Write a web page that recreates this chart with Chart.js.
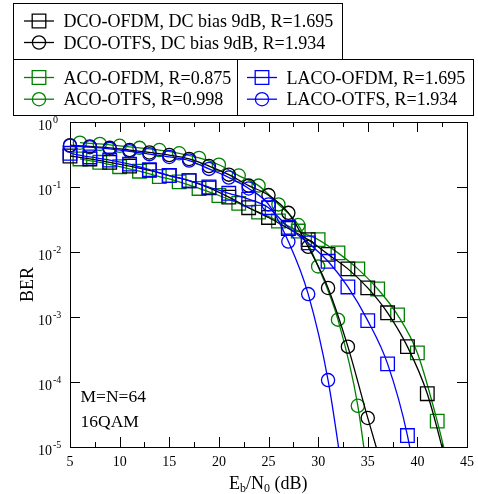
<!DOCTYPE html>
<html>
<head>
<meta charset="utf-8">
<script src="https://cdn.jsdelivr.net/npm/chart.js@4.4.0/dist/chart.umd.min.js"></script>
<style>
  html, body { margin:0; padding:0; background:#fff; }
  canvas { display:block; }
</style>
</head>
<body>
<canvas id="berChart" width="478" height="494"></canvas>
<script>

/* Eb/N0 grids (dB) */
const snrOdd  = [5,7,9,11,13,15,17,19,21,23,25,27,29,31,33,35,37,39,41,43];
const snrEven = [6,8,10,12,14,16,18,20,22,24,26,28,30,32,34,36,38,40,42,44];

/* BER per scheme */
const dcoOfdm  = [0.30,0.27,0.24,0.21,0.18,0.15,0.125,0.097,0.07,0.048,0.034,0.023,0.0155,0.0092,0.0055,0.0028,0.00116,0.00035,0.000066,0.000005];
const dcoOtfs  = [0.44,0.42,0.40,0.37,0.34,0.31,0.27,0.21,0.155,0.105,0.075,0.040,0.012,0.0028,0.00035,0.000028,0.0000025];
const acoOfdm  = [0.27,0.24,0.205,0.175,0.145,0.12,0.095,0.074,0.056,0.041,0.03,0.021,0.0155,0.0097,0.0055,0.0027,0.00108,0.00028,0.000025,0.0000013];
const acoOtfs  = [0.48,0.46,0.43,0.40,0.37,0.33,0.28,0.22,0.15,0.105,0.054,0.026,0.006,0.00091,0.000043,0.0000002];
const lacoOfdm = [0.33,0.29,0.26,0.225,0.185,0.15,0.125,0.10,0.08,0.065,0.048,0.024,0.0138,0.0072,0.0029,0.00088,0.00019,0.000015,0.00000025];
const lacoOtfs = [0.43,0.41,0.385,0.355,0.32,0.29,0.255,0.19,0.14,0.095,0.054,0.0145,0.00225,0.000107,0.000001];

/* axis ticks */
const xTicks = [5,10,15,20,25,30,35,40,45];
const xMinorTicks = [7.5,12.5,17.5,22.5,27.5,32.5,37.5,42.5];
const yTicks = [1,0.1,0.01,0.001,0.0001,0.00001];

const serif = '"Liberation Serif", "Times New Roman", serif';

function pairs(xs, ys){
  return ys.map((y, i) => ({ x: xs[i], y: y }));
}

function series(label, xs, ys, color, style, order){
  return {
    label: label,
    data: pairs(xs, ys),
    borderColor: color,
    backgroundColor: 'rgba(0,0,0,0)',
    borderWidth: 1.3,
    pointStyle: style,
    pointRadius: style === 'rect' ? 9.6 : 6.6,
    pointBorderColor: color,
    pointBackgroundColor: 'rgba(0,0,0,0)',
    pointBorderWidth: 1.3,
    cubicInterpolationMode: 'monotone',
    clip: { left: 20, right: 20, top: 20, bottom: 0 },
    order: order
  };
}

function drawMarker(ctx, style, cx, cy, color){
  ctx.strokeStyle = color;
  ctx.lineWidth = 1.3;
  ctx.beginPath();
  if (style === 'rect') ctx.rect(cx - 6.8, cy - 6.8, 13.6, 13.6);
  else ctx.arc(cx, cy, 6.6, 0, Math.PI * 2);
  ctx.stroke();
}

/* frame, inside ticks, labels, notes and the boxed legend */
const decorations = {
  id: 'decorations',

  beforeDraw(chart){
    const ctx = chart.ctx;
    ctx.save();
    ctx.fillStyle = '#fff';
    ctx.fillRect(0, 0, chart.width, chart.height);
    ctx.restore();
  },

  beforeDatasetsDraw(chart){
    const { ctx, chartArea: a, scales: { x, y } } = chart;
    ctx.save();
    ctx.strokeStyle = '#000';
    ctx.lineWidth = 1;
    ctx.strokeRect(a.left + 0.5, a.top + 0.5, a.right - a.left, a.bottom - a.top);

    ctx.beginPath();
    xTicks.forEach(v => {
      const px = Math.round(x.getPixelForValue(v)) + 0.5;
      ctx.moveTo(px, a.bottom); ctx.lineTo(px, a.bottom - 10);
      ctx.moveTo(px, a.top);    ctx.lineTo(px, a.top + 10);
    });
    xMinorTicks.forEach(v => {
      const px = Math.round(x.getPixelForValue(v)) + 0.5;
      ctx.moveTo(px, a.bottom); ctx.lineTo(px, a.bottom - 5);
      ctx.moveTo(px, a.top);    ctx.lineTo(px, a.top + 5);
    });
    yTicks.forEach(v => {
      const py = Math.round(y.getPixelForValue(v)) + 0.5;
      ctx.moveTo(a.left, py);  ctx.lineTo(a.left + 10, py);
      ctx.moveTo(a.right, py); ctx.lineTo(a.right - 10, py);
    });
    ctx.stroke();
    ctx.restore();
  },

  afterDraw(chart){
    const { ctx, chartArea: a, scales: { x, y } } = chart;
    ctx.save();
    ctx.fillStyle = '#000';
    ctx.textBaseline = 'alphabetic';

    // x tick labels
    ctx.font = '14px ' + serif;
    ctx.textAlign = 'center';
    xTicks.forEach(v => {
      ctx.fillText(String(v), x.getPixelForValue(v), 466);
    });

    // y tick labels 10^n
    yTicks.forEach(v => {
      const py = y.getPixelForValue(v);
      const e = Math.round(Math.log10(v));
      ctx.font = '14px ' + serif;
      ctx.textAlign = 'right';
      ctx.fillText('10', 52, py + 8);
      ctx.font = '10px ' + serif;
      ctx.textAlign = 'left';
      ctx.fillText(e === 0 ? '0' : '-' + Math.abs(e), 53, py + 1);
    });

    // axis titles
    ctx.font = '18px ' + serif;
    ctx.textAlign = 'left';
    let tx = 229;
    const parts = [['E', 0], ['b', 1], ['/N', 0], ['0', 1], [' (dB)', 0]];
    parts.forEach(([t, sub]) => {
      ctx.font = (sub ? '12px ' : '18px ') + serif;
      ctx.fillText(t, tx, sub ? 492 : 489);
      tx += ctx.measureText(t).width;
    });

    ctx.save();
    ctx.translate(33, 284.5);
    ctx.rotate(-Math.PI / 2);
    ctx.font = '18px ' + serif;
    ctx.textAlign = 'center';
    ctx.fillText('BER', 0, 0);
    ctx.restore();

    // notes
    ctx.font = '17.5px ' + serif;
    ctx.textAlign = 'left';
    ctx.fillText('M=N=64', 80.5, 401.5);
    ctx.fillText('16QAM', 80.5, 426.5);

    // legend boxes
    const ds = chart.data.datasets;
    const boxes = [
      { x0: 13.5,  y0: 3.5,  x1: 342.5, y1: 59.5,  sym: 24,  rows: [[0, 21], [1, 42.5]] },
      { x0: 13.5,  y0: 59.5, x1: 237.5, y1: 115.5, sym: 24,  rows: [[2, 77.5], [3, 99.2]] },
      { x0: 237.5, y0: 59.5, x1: 473.5, y1: 115.5, sym: 247, rows: [[4, 77.5], [5, 99.2]] }
    ];
    ctx.lineWidth = 1;
    boxes.forEach(b => {
      ctx.fillStyle = '#fff';
      ctx.fillRect(b.x0, b.y0, b.x1 - b.x0, b.y1 - b.y0);
      ctx.strokeStyle = '#000';
      ctx.lineWidth = 1;
      ctx.strokeRect(b.x0, b.y0, b.x1 - b.x0, b.y1 - b.y0);
      b.rows.forEach(([i, cy]) => {
        const d = ds[i];
        ctx.strokeStyle = d.borderColor;
        ctx.lineWidth = 1.3;
        ctx.beginPath();
        ctx.moveTo(b.sym, cy); ctx.lineTo(b.sym + 30, cy);
        ctx.stroke();
        drawMarker(ctx, d.pointStyle, b.sym + 15, cy, d.borderColor);
        ctx.fillStyle = '#000';
        ctx.font = '18px ' + serif;
        ctx.textAlign = 'left';
        ctx.fillText(d.label, b.sym + 39.5, cy + 6);
      });
    });

    ctx.restore();
  }
};

new Chart(document.getElementById('berChart'), {
  type: 'line',
  data: {
    datasets: [
      series('DCO-OFDM, DC bias 9dB, R=1.695', snrOdd,  dcoOfdm,  '#000000', 'rect',   2),
      series('DCO-OTFS, DC bias 9dB, R=1.934', snrOdd,  dcoOtfs,  '#000000', 'circle', 2),
      series('ACO-OFDM, R=0.875',              snrEven, acoOfdm,  '#008000', 'rect',   3),
      series('ACO-OTFS, R=0.998',              snrEven, acoOtfs,  '#008000', 'circle', 3),
      series('LACO-OFDM, R=1.695',             snrOdd,  lacoOfdm, '#0000ff', 'rect',   1),
      series('LACO-OTFS, R=1.934',             snrOdd,  lacoOtfs, '#0000ff', 'circle', 1)
    ]
  },
  options: {
    responsive: false,
    animation: false,
    devicePixelRatio: 1,
    layout: { padding: { left: 70, right: 11, top: 122, bottom: 47 } },
    elements: { line: { capBezierPoints: false } },
    plugins: {
      legend: { display: false },
      tooltip: { enabled: false }
    },
    scales: {
      x: { type: 'linear', min: 5, max: 45, display: false },
      y: { type: 'logarithmic', min: 0.00001, max: 1, display: false }
    }
  },
  plugins: [decorations]
});

</script>
</body>
</html>
